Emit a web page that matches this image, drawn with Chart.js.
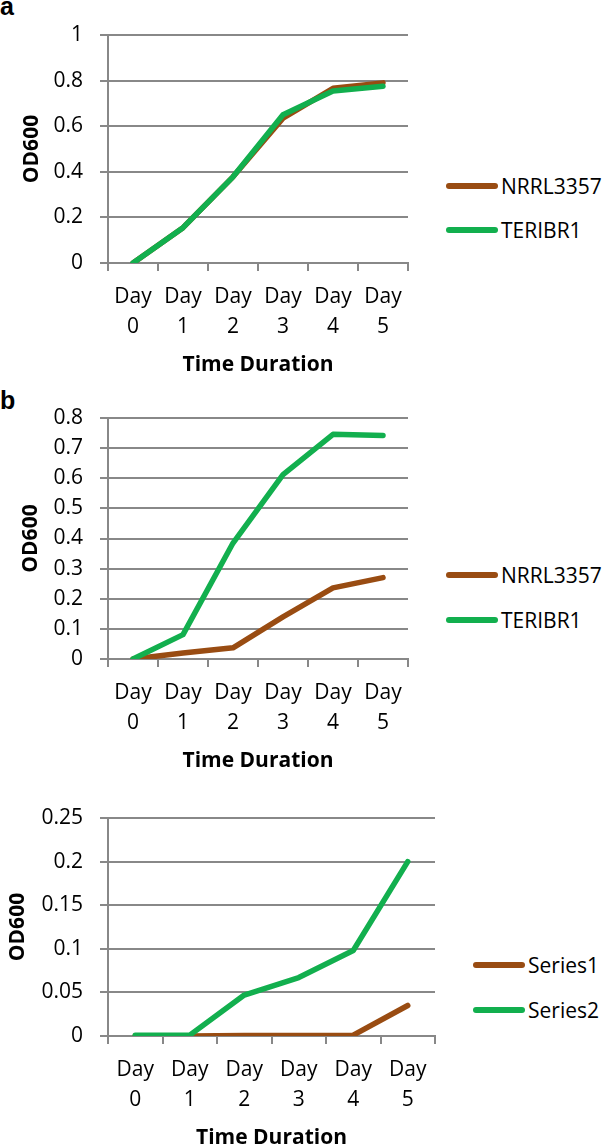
<!DOCTYPE html>
<html lang="en">
<head>
<meta charset="UTF-8">
<title>OD600 growth curves</title>
<script src="https://cdn.jsdelivr.net/npm/chart.js"></script>
<style>
  body { margin: 0; width: 606px; height: 1146px; overflow: hidden; background: #fff; position: relative; font-family: "Open Sans", sans-serif; }
  canvas { position: absolute; left: 0; }
  .panel { position: absolute; left: 0; font: bold 25px "Liberation Sans", Arial, sans-serif; line-height: 25px; color: #000; }
  .legend-row { position: absolute; height: 30px; display: flex; align-items: center; font-size: 21px; color: #000; white-space: nowrap; }
  .legend-row .swatch { width: 52px; height: 6px; border-radius: 3px; margin-right: 3px; }
</style>
</head>
<body>
<div class="panel" style="top:-6px">a</div>
<div class="panel" style="top:388px">b</div>
<canvas id="chartA" width="420" height="380" style="top:0"></canvas>
<canvas id="chartB" width="420" height="393" style="top:383px"></canvas>
<canvas id="chartC" width="447" height="370" style="top:783px"></canvas>

<script>
  // categories
  const dayLabels = [['Day', '0'], ['Day', '1'], ['Day', '2'], ['Day', '3'], ['Day', '4'], ['Day', '5']];

  // panel a
  const namesA = ['NRRL3357', 'TERIBR1'];
  const nrrlA = [0, 0.155, 0.378, 0.635, 0.766, 0.79];
  const teriA = [0, 0.155, 0.378, 0.65, 0.754, 0.775];
  const yTicksA = [0, 0.2, 0.4, 0.6, 0.8, 1];

  // panel b
  const namesB = ['NRRL3357', 'TERIBR1'];
  const nrrlB = [0, 0.02, 0.037, 0.14, 0.236, 0.27];
  const teriB = [0, 0.081, 0.385, 0.612, 0.746, 0.742];
  const yTicksB = [0, 0.1, 0.2, 0.3, 0.4, 0.5, 0.6, 0.7, 0.8];

  // bottom panel
  const namesC = ['Series1', 'Series2'];
  const series1C = [0, 0, 0.0005, 0.0005, 0.001, 0.035];
  const series2C = [0.001, 0.001, 0.047, 0.067, 0.098, 0.2];
  const yTicksC = [0, 0.05, 0.1, 0.15, 0.2, 0.25];

  const colors = ['#994c12', '#12af4e'];
  const gridColor = '#888888';
  const fontFamily = '"Open Sans", sans-serif';

  function makeChart(id, names, values, yTicks, titlePad, legendTops, legendLeft) {
    const canvas = document.getElementById(id);
    const datasets = names.map((name, i) => ({
      label: name,
      data: values[i],
      borderColor: colors[i],
      backgroundColor: colors[i],
      borderWidth: 5.5,
      borderCapStyle: 'round',
      borderJoinStyle: 'round',
      pointRadius: 0,
      tension: 0,
      // green drawn over brown
      order: names.length - 1 - i
    }));

    const chart = new Chart(canvas.getContext('2d'), {
      type: 'line',
      data: { labels: dayLabels, datasets: datasets },
      options: {
        responsive: false,
        animation: false,
        layout: { padding: { top: 35, right: 12, left: 0, bottom: 0 } },
        plugins: { legend: { display: false }, tooltip: { enabled: false } },
        scales: {
          x: {
            offset: true,
            grid: { offset: true, drawOnChartArea: false, drawTicks: true, tickLength: 8, color: gridColor, lineWidth: 2 },
            border: { display: true, color: gridColor, width: 2 },
            ticks: { autoSkip: false, maxRotation: 0, color: '#000', padding: 11, font: { family: fontFamily, size: 21, lineHeight: 30 / 21 } },
            title: { display: true, text: 'Time Duration', color: '#000', font: { family: fontFamily, size: 21, weight: 'bold', lineHeight: 1.2 }, padding: { top: 0, bottom: 2.4 } },
            afterFit: s => { s.height = 117; }
          },
          y: {
            min: yTicks[0],
            max: yTicks[yTicks.length - 1],
            afterBuildTicks: s => { s.ticks = yTicks.map(v => ({ value: v })); },
            grid: { drawTicks: true, tickLength: 8, color: gridColor, lineWidth: 2 },
            border: { display: true, color: gridColor, width: 2 },
            ticks: { color: '#000', padding: 17, font: { family: fontFamily, size: 21 }, callback: v => String(v) },
            title: { display: true, text: 'OD600', color: '#000', font: { family: fontFamily, size: 21, weight: 'bold', lineHeight: 1.2 }, padding: { top: titlePad, bottom: 0 } },
            afterFit: s => { s.width = 108; }
          }
        }
      }
    });

    // legend built from the chart's own datasets
    chart.data.datasets.forEach((ds, i) => {
      const row = document.createElement('div');
      row.className = 'legend-row';
      row.style.top = (legendTops[i] - 15) + 'px';
      row.style.left = legendLeft + 'px';
      const sw = document.createElement('span');
      sw.className = 'swatch';
      sw.style.background = ds.borderColor;
      const txt = document.createElement('span');
      txt.textContent = ds.label;
      row.appendChild(sw);
      row.appendChild(txt);
      document.body.appendChild(row);
    });
    return chart;
  }

  makeChart('chartA', namesA, [nrrlA, teriA], yTicksA, 19.4, [186, 230], 446);
  makeChart('chartB', namesB, [nrrlB, teriB], yTicksB, 18.4, [575, 620], 446);
  makeChart('chartC', namesC, [series1C, series2C], yTicksC, 5.9, [965, 1010], 473);
</script>
</body>
</html>
